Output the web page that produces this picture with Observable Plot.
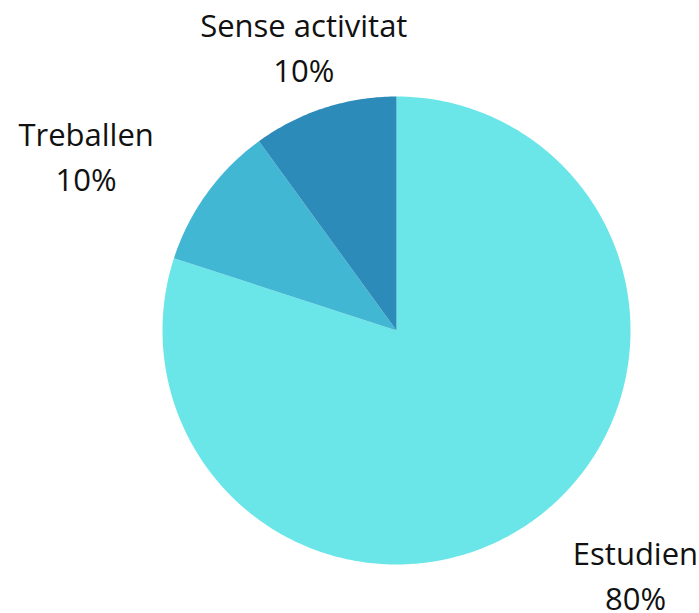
<!DOCTYPE html>
<html><head><meta charset="utf-8">
<script src="https://cdn.jsdelivr.net/npm/d3@7"></script>
<script src="https://cdn.jsdelivr.net/npm/@observablehq/plot@0.6"></script>
<style>body{margin:0;background:#fff}</style>
</head><body><div id="chart"></div>
<script>
const categories = ["Estudien", "Treballen", "Sense activitat"];
const values = [80, 10, 10];
const labels = ["80%", "10%", "10%"];
const colors = ["#6ae5e8", "#42b7d4", "#2d8bba"];

const W = 699, H = 613;
const FONT = "Open Sans";
const FS = 31;
const R = 234;
const LR = 300;

const pie = d3.pie().sort(null).value(d => d.v)(categories.map((c, i) => ({c, v: values[i], l: labels[i], col: colors[i]})));

const slices = pie.map(p => {
  const pts = [{x: 0, y: 0}];
  const n = Math.max(2, Math.ceil((p.endAngle - p.startAngle) * 80));
  for (let k = 0; k <= n; k++) {
    const a = p.startAngle + (p.endAngle - p.startAngle) * k / n;
    pts.push({x: R * Math.sin(a), y: -R * Math.cos(a)});
  }
  pts.push({x: 0, y: 0});
  return {p, pts};
});

const ctx = document.createElement("canvas").getContext("2d");
ctx.font = `${FS}px "${FONT}"`;
const labelData = pie.map(p => {
  const a = (p.startAngle + p.endAngle) / 2;
  const s = Math.sin(a);
  const w = Math.max(ctx.measureText(p.data.c).width, ctx.measureText(p.data.l).width);
  const shift = Math.abs(s) < 0.4 ? 0 : Math.sign(s) * w / 2;
  return {x: LR * s + shift, y: -LR * Math.cos(a), text: p.data.c + "\n" + p.data.l};
});

const cx = 396, cy = 330;
const chart = Plot.plot({
  width: W, height: H,
  margin: 0,
  x: {domain: [-cx, W - cx], range: [0, W], axis: null},
  y: {domain: [-cy, H - cy], range: [0, H], axis: null},
  style: {fontFamily: FONT, background: "#fff"},
  marks: [
    ...slices.map(s => Plot.line(s.pts, {x: "x", y: "y", fill: s.p.data.col, stroke: "none", curve: "linear"})),
    Plot.text(labelData, {x: "x", y: "y", text: "text", fontSize: FS, fill: "#111", lineHeight: 1.46, textAnchor: "middle", lineAnchor: "middle"})
  ]
});
document.getElementById("chart").appendChild(chart);
</script></body></html>
